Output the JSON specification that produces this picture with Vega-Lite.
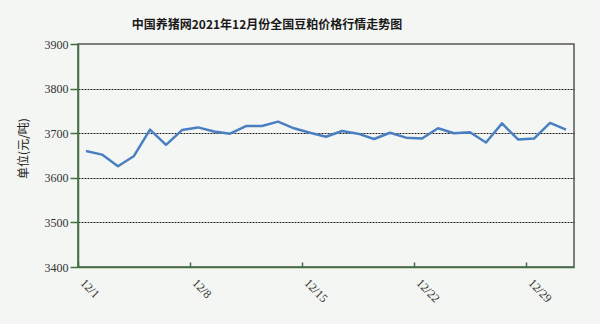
{
  "$schema": "https://vega.github.io/schema/vega-lite/v6.json",
  "autosize": "none",
  "width": 496,
  "height": 223,
  "padding": {"left": 78, "top": 44, "right": 26, "bottom": 57},
  "background": "#f4f6f3",
  "title": {
    "text": "中国养猪网2021年12月份全国豆粕价格行情走势图",
    "font": "Noto Sans CJK SC",
    "fontSize": 12,
    "fontWeight": "bold",
    "color": "#1a1a1a",
    "anchor": "middle",
    "dx": -59,
    "offset": 1,
    "baseline": "middle"
  },
  "data": {
    "values": [
      {"date": "12/1", "price": 3660},
      {"date": "12/2", "price": 3652},
      {"date": "12/3", "price": 3626},
      {"date": "12/4", "price": 3649},
      {"date": "12/5", "price": 3708},
      {"date": "12/6", "price": 3674},
      {"date": "12/7", "price": 3707},
      {"date": "12/8", "price": 3713},
      {"date": "12/9", "price": 3704},
      {"date": "12/10", "price": 3699},
      {"date": "12/11", "price": 3716},
      {"date": "12/12", "price": 3716},
      {"date": "12/13", "price": 3726},
      {"date": "12/14", "price": 3711},
      {"date": "12/15", "price": 3701},
      {"date": "12/16", "price": 3692},
      {"date": "12/17", "price": 3705},
      {"date": "12/18", "price": 3699},
      {"date": "12/19", "price": 3687},
      {"date": "12/20", "price": 3701},
      {"date": "12/21", "price": 3690},
      {"date": "12/22", "price": 3688},
      {"date": "12/23", "price": 3711},
      {"date": "12/24", "price": 3700},
      {"date": "12/25", "price": 3702},
      {"date": "12/26", "price": 3679},
      {"date": "12/27", "price": 3722},
      {"date": "12/28", "price": 3686},
      {"date": "12/29", "price": 3688},
      {"date": "12/30", "price": 3723},
      {"date": "12/31", "price": 3708}
    ]
  },
  "mark": {"type": "line", "color": "#4a7fc1", "strokeWidth": 2.5, "strokeJoin": "round"},
  "encoding": {
    "x": {
      "field": "date",
      "type": "ordinal",
      "sort": null,
      "bandPosition": 0.5,
      "scale": {"type": "band", "paddingInner": 0, "paddingOuter": 0},
      "axis": {
        "title": null,
        "values": ["12/1", "12/8", "12/15", "12/22", "12/29"],
        "bandPosition": 0,
        "grid": false,
        "domainColor": "#40703f",
        "domainWidth": 1.5,
        "tickColor": "#40703f",
        "tickSize": -5,
        "tickWidth": 1.5,
        "labelAngle": 45,
        "labelAlign": "left",
        "labelBaseline": "top",
        "labelPadding": 15,
        "labelFont": "Liberation Serif",
        "labelFontSize": 12,
        "labelColor": "#333333"
      }
    },
    "y": {
      "field": "price",
      "type": "quantitative",
      "scale": {"domain": [3400, 3900], "nice": false, "zero": false},
      "axis": {
        "title": "单位(元/吨)",
        "titleFont": "Noto Sans CJK SC",
        "titleFontSize": 12,
        "titleFontWeight": "normal",
        "titleColor": "#222222",
        "titleX": -55,
        "titleY": 104,
        "titleAngle": -90,
        "titleAlign": "center",
        "titleBaseline": "middle",
        "values": [3400, 3500, 3600, 3700, 3800, 3900],
        "format": "d",
        "grid": true,
        "gridColor": "#222222",
        "gridWidth": 1,
        "gridDash": [2, 1],
        "gridOpacity": {"condition": {"test": "datum.value === 3400 || datum.value === 3900", "value": 0}, "value": 1},
        "domainColor": "#40703f",
        "domainWidth": 1.5,
        "tickColor": "#40703f",
        "tickSize": 8,
        "tickWidth": 1.5,
        "labelPadding": 2,
        "labelFont": "Liberation Serif",
        "labelFontSize": 12,
        "labelColor": "#333333"
      }
    }
  },
  "config": {
    "view": {"stroke": "#555555", "strokeWidth": 1.5, "fill": "#f4f6f3"}
  }
}
